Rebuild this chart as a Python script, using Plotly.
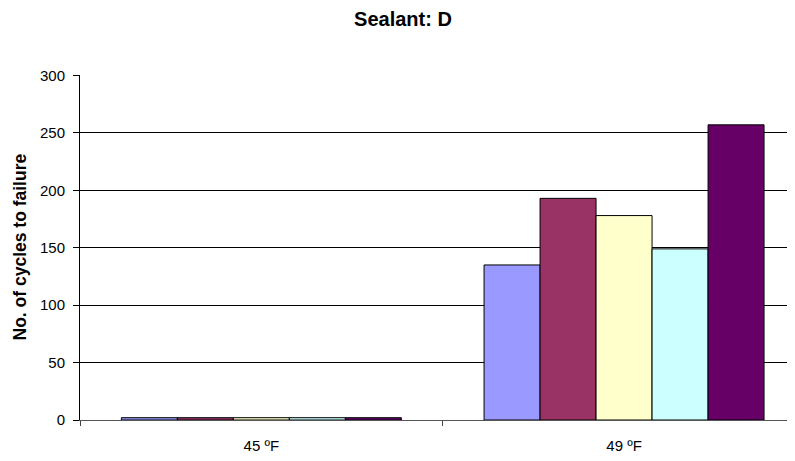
import plotly.graph_objects as go

categories = ["45 ºF", "49 ºF"]
series_names = ["Series 1", "Series 2", "Series 3", "Series 4", "Series 5"]
series_values = [
    [2, 135],
    [2, 193],
    [2, 178],
    [2, 149],
    [2, 257],
]
colors = ["#9999FF", "#993366", "#FFFFCC", "#CCFFFF", "#660066"]
y_ticks = [0, 50, 100, 150, 200, 250, 300]

fig = go.Figure()
for name, vals, col in zip(series_names, series_values, colors):
    fig.add_trace(go.Bar(
        x=categories, y=vals, name=name,
        marker=dict(color=col, line=dict(color="black", width=1)),
        showlegend=False,
    ))

L, T, B, W, H = 72, 67, 49, 795, 461
plot_w = W - L

fig.update_layout(
    width=W, height=H,
    paper_bgcolor="white", plot_bgcolor="white",
    barmode="group", bargap=0.228, bargroupgap=0,
    margin=dict(l=L, r=0, t=T, b=B),
    font=dict(family="Liberation Sans, Arial, sans-serif", color="black", size=15),
    title=dict(text="<b>Sealant: D</b>", x=395/W, xanchor="center",
               y=1 - 4/H, yanchor="top", font=dict(size=20)),
    annotations=[dict(
        text="<b>No. of cycles to failure</b>", textangle=-90,
        xref="paper", yref="paper", x=-(L - 11)/plot_w, y=0.5,
        xanchor="center", yanchor="middle", showarrow=False,
        font=dict(size=17.5),
    )],
)
fig.update_xaxes(
    type="category", range=[-0.5, -0.5 + plot_w/362.7], tickson="boundaries",
    ticks="outside", ticklen=5, tickcolor="#444", showgrid=False,
    showline=True, linecolor="#555", linewidth=1,
    tickfont=dict(size=15), automargin=False, ticklabelstandoff=12,
)
fig.update_yaxes(
    range=[0, 300.4], tickvals=y_ticks, ticks="outside", ticklen=6,
    tickcolor="black", showline=True, linecolor="black", linewidth=1,
    showgrid=True, gridcolor="black", gridwidth=1, zeroline=False,
    tickfont=dict(size=15), automargin=False, ticklabelstandoff=5,
)

fig.write_html("out.html")
